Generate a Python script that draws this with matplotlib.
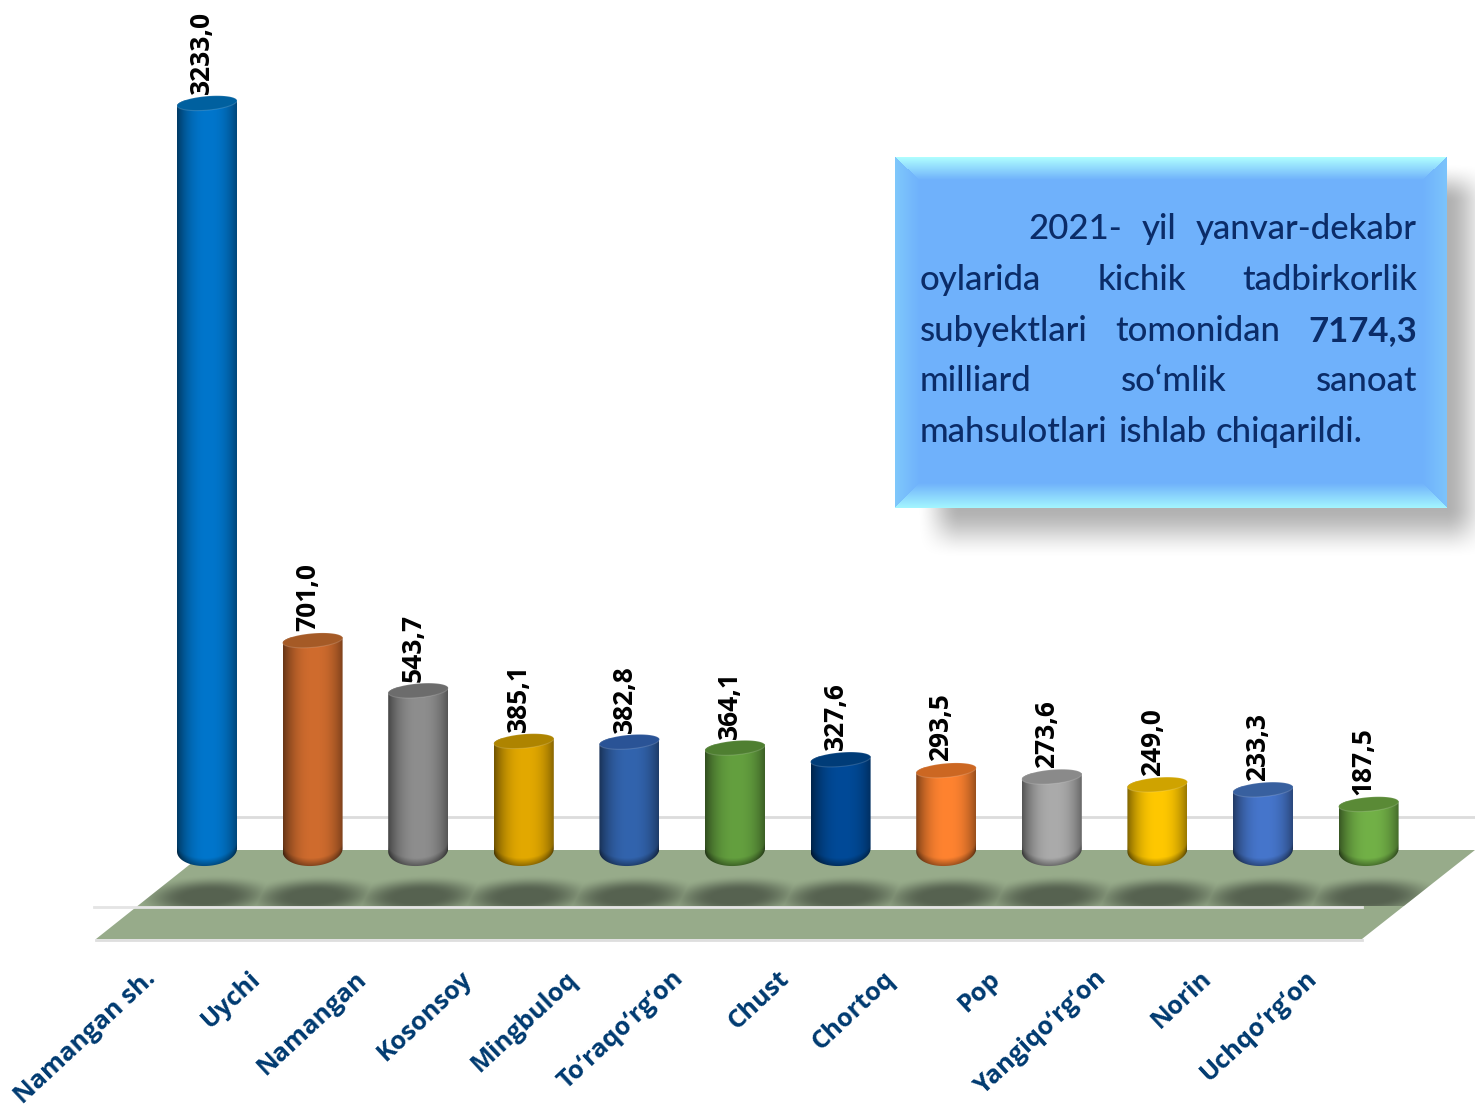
import numpy as np
import matplotlib
matplotlib.use("Agg")
import matplotlib.pyplot as plt
from matplotlib.colors import to_rgb
from matplotlib.patches import Polygon
from matplotlib.path import Path

# ─── DATA ───────────────────────────────────────────────────────────────────
districts = ["Namangan sh.", "Uychi", "Namangan", "Kosonsoy", "Mingbuloq", "To‘raqo‘rg‘on",
             "Chust", "Chortoq", "Pop", "Yangiqo‘rg‘on", "Norin", "Uchqo‘rg‘on"]
values = [3233.0, 701.0, 543.7, 385.1, 382.8, 364.1, 327.6, 293.5, 273.6, 249.0, 233.3, 187.5]
bar_colors = ["#0076CC", "#D06C2E", "#8E8E8E", "#E3A900", "#3264AE", "#64A03F",
              "#004A98", "#FF8330", "#ABABAB", "#FFC800", "#4676CC", "#72B147"]
cap_colors = ["#00609F", "#A55A26", "#6C6C6C", "#AE8400", "#2A5396", "#4F7F31",
              "#003C78", "#CC6722", "#8A8A8A", "#CFA300", "#38609F", "#5A8A36"]
box_lines = [
    [("2021-", False), ("yil", False), ("yanvar-dekabr", False)],
    [("oylarida", False), ("kichik", False), ("tadbirkorlik", False)],
    [("subyektlari", False), ("tomonidan", False), ("7174,3", True)],
    [("milliard", False), ("so‘mlik", False), ("sanoat", False)],
    [("mahsulotlari", False), ("ishlab", False), ("chiqarildi.", False)],
]

# ─── LAYOUT (pixels in the 1475x1112 picture) ───────────────────────────────
W, H = 1475, 1112
X0_PX, X_STEP = 207.0, 105.6      # first bar centre, distance between bars
Y0_PX, Y_SCALE = 864.0, 0.319     # where value 0 sits, pixels per unit
AXIS_MAX = 2385.0                 # the tall bar is cut here, as in the original
AXIS_MIN = 44.0                   # the round foot of each bar starts here
HALF_W = 30.0 / X_STEP
CAP_H = 7.0 / Y_SCALE
FOOT_H = 16.0 / Y_SCALE
TILT = 2.5 / Y_SCALE
FONT = "Open Sans"


def smooth(v):
    v = np.clip(v * 0.5 + 0.5, 0, 1)
    return v * v * (3 - 2 * v)


def draw_cylinder(ax, x, top, color, cap_color):
    u = np.linspace(-1, 1, 120)
    y = np.linspace(AXIS_MIN - FOOT_H - TILT, top + TILT, max(int((top - AXIS_MIN) * Y_SCALE), 60))
    U, Y = np.meshgrid(u, y)
    shade = 1 - 0.45 * np.abs(U - 0.05) ** 2.4
    low = AXIS_MIN - FOOT_H * np.sqrt(1 - U ** 2) + 0.6 * TILT * U
    rim = np.clip(0.68 + 0.32 * (Y - low) * Y_SCALE / 7.0, 0, 1)
    img = np.array(to_rgb(color))[None, None, :] * (shade * rim)[:, :, None]

    t = np.linspace(0, np.pi, 60)
    lower_x = -np.cos(t)
    lower_y = AXIS_MIN - FOOT_H * np.sin(t) + 0.6 * TILT * lower_x
    upper_x = np.cos(t)
    upper_y = top + CAP_H * np.sin(t) + TILT * upper_x
    outline = np.column_stack([x + HALF_W * np.r_[lower_x, upper_x], np.r_[lower_y, upper_y]])

    im = ax.imshow(img, origin="lower", aspect="auto", interpolation="bilinear", zorder=3,
                   extent=[x - HALF_W, x + HALF_W, y[0], y[-1]])
    im.set_clip_path(Path(np.vstack([outline, outline[0]])), ax.transData)

    t = np.linspace(0, 2 * np.pi, 120)
    cap_x = np.cos(t)
    cap_y = top + CAP_H * np.sin(t) + TILT * cap_x
    ax.add_patch(Polygon(np.column_stack([x + HALF_W * cap_x, cap_y]), closed=True, facecolor=cap_color,
                         edgecolor="#FFFFFF28", linewidth=0.8, zorder=4))


def draw_background(bg):
    # floor
    floor = np.array([[96, 939], [1362, 939], [1475, 850], [208, 850]])
    bg.add_patch(Polygon(floor, closed=True, facecolor="#97AB8A", edgecolor="none", zorder=1))
    bg.plot([96, 1362], [939.5, 939.5], color="#DEDEDE", lw=2, zorder=1.5)

    # bar shadows on the floor
    X, Y = np.meshgrid(np.arange(90, W, 1.0), np.arange(860, 940, 1.0))
    alpha = np.zeros_like(X)
    for i in range(len(values)):
        cx = X0_PX + X_STEP * i
        r = np.sqrt(((X - cx) / 60.0) ** 2 + ((Y - 896 + (X - cx) * 0.04) / 17.0) ** 2)
        alpha = np.maximum(alpha, smooth((1 - r) / 0.45 - 0.4))
    rgba = np.zeros(X.shape + (4,))
    rgba[..., :3] = to_rgb("#566250")
    rgba[..., 3] = alpha * (Y < 906)
    im = bg.imshow(rgba, extent=[90, W, 940, 860], aspect="auto", interpolation="bilinear", zorder=2)
    im.set_clip_path(Polygon(floor, closed=True, transform=bg.transData))

    # grid lines
    bg.plot([237, W], [817, 817], color="#DCDCDC", lw=2, zorder=1.5)
    bg.plot([94, 1362], [907, 907], color="#E4E4E4", lw=2, zorder=2.5)

    # shadow of the text box
    X, Y = np.meshgrid(np.arange(890, W, 1.0), np.arange(150, 570, 1.0))
    alpha = 0.31 * smooth((X - 938) / 22) * smooth((1470 - X) / 24) * smooth((Y - 182) / 20) * smooth((533 - Y) / 26)
    rgba = np.zeros(X.shape + (4,))
    rgba[..., 3] = alpha
    bg.imshow(rgba, extent=[890, W, 570, 150], aspect="auto", interpolation="bilinear", zorder=5)

    # bevelled text box
    x0, x1, y0, y1 = 895, 1447, 157, 508
    X, Y = np.meshgrid(np.arange(x0, x1, 1.0) + 0.5, np.arange(y0, y1, 1.0) + 0.5)
    dist = np.stack([(Y - y0) / 23, (y1 - Y) / 25, (X - x0) / 25, (x1 - X) / 25])
    which = dist.argmin(axis=0)
    d = np.clip(dist.min(axis=0), 0, 1)[:, :, None]
    face = np.array(to_rgb("#6FB1FB"))
    edges = np.array([to_rgb(c) for c in ["#B0FFFF", "#A4F6FF", "#7FC8FC", "#7CC4FC"]])
    bg.imshow(face * d + edges[which] * (1 - d), extent=[x0, x1, y1, y0], aspect="auto",
              interpolation="nearest", zorder=6)


def draw_box_text(fig, bg):
    baselines = [239, 290, 341, 391, 442]
    lefts = [1028, 920, 920, 920, 920]
    right = 1417
    renderer = fig.canvas.get_renderer()
    for i, (line, base, left) in enumerate(zip(box_lines, baselines, lefts)):
        words = [bg.text(left, base, w, fontsize=25, family="Lato", color="#0B2C68", va="baseline",
                         fontweight="bold" if b else "medium", zorder=7) for w, b in line]
        widths = [t.get_window_extent(renderer).width for t in words]
        # last line is not justified
        gap = 10.0 if i == len(box_lines) - 1 else (right - left - sum(widths)) / (len(words) - 1)
        x = left
        for t, w in zip(words, widths):
            t.set_x(x)
            x += w + gap


def main():
    fig = plt.figure(figsize=(W / 100, H / 100), dpi=100)

    bg = fig.add_axes([0, 0, 1, 1])
    draw_background(bg)
    bg.set_xlim(0, W)
    bg.set_ylim(H, 0)
    bg.axis("off")

    ax = fig.add_axes([0, 0, 1, 1], facecolor="none")
    for i, (v, c, cc) in enumerate(zip(values, bar_colors, cap_colors)):
        top = min(v, AXIS_MAX)
        draw_cylinder(ax, i, top, c, cc)
        ax.text(i - 0.05, top + CAP_H + 2 / Y_SCALE, f"{v:.1f}".replace(".", ","), rotation=90,
                ha="center", va="bottom", fontsize=19, fontweight="bold", family=FONT, color="black", zorder=5)
        ax.text(i - 0.60, -(966 - Y0_PX) / Y_SCALE, districts[i], rotation=43, rotation_mode="anchor",
                ha="right", va="top", fontsize=18.3, fontweight="bold", family=FONT, color="#003A70", zorder=5)
    ax.set_xlim(-X0_PX / X_STEP, (W - X0_PX) / X_STEP)
    ax.set_ylim(-(H - Y0_PX) / Y_SCALE, Y0_PX / Y_SCALE)
    ax.axis("off")

    draw_box_text(fig, bg)
    fig.savefig("out.png", dpi=100)


if __name__ == "__main__":
    main()
